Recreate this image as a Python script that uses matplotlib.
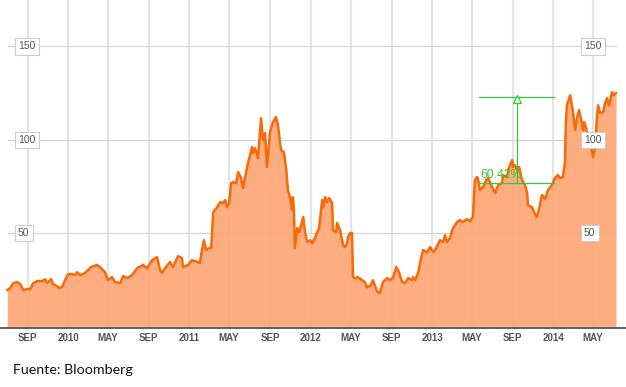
import matplotlib
matplotlib.use("Agg")
import matplotlib.pyplot as plt
import matplotlib.dates as mdates
import matplotlib.transforms as mtransforms
import pandas as pd

dates = [
    "2009-07-02", "2009-07-11", "2009-07-20", "2009-08-01", "2009-08-10", "2009-08-19", "2009-08-31",
    "2009-09-09", "2009-09-18", "2009-09-30", "2009-10-15", "2009-10-24", "2009-10-30", "2009-11-11",
    "2009-11-17", "2009-11-29", "2009-12-05", "2009-12-14", "2009-12-23", "2010-01-01", "2010-01-13",
    "2010-01-22", "2010-01-28", "2010-02-06", "2010-02-21", "2010-03-02", "2010-03-11", "2010-03-29",
    "2010-04-07", "2010-04-16", "2010-04-22", "2010-05-01", "2010-05-13", "2010-05-23", "2010-06-07",
    "2010-06-16", "2010-06-28", "2010-07-13", "2010-07-28", "2010-08-15", "2010-08-27", "2010-09-11",
    "2010-09-26", "2010-10-05", "2010-10-11", "2010-10-20", "2010-11-04", "2010-11-13", "2010-11-28",
    "2010-12-10", "2010-12-13", "2010-12-28", "2011-01-09", "2011-01-27", "2011-02-02", "2011-02-08",
    "2011-02-14", "2011-02-21", "2011-03-02", "2011-03-08", "2011-03-14", "2011-03-26", "2011-04-04",
    "2011-04-13", "2011-04-19", "2011-04-25", "2011-05-01", "2011-05-07", "2011-05-13", "2011-05-22",
    "2011-05-28", "2011-06-06", "2011-06-12", "2011-06-18", "2011-06-27", "2011-07-09", "2011-07-12",
    "2011-07-18", "2011-07-27", "2011-08-05", "2011-08-11", "2011-08-17", "2011-08-23", "2011-09-01",
    "2011-09-10", "2011-09-19", "2011-09-25", "2011-10-04", "2011-10-13", "2011-10-20", "2011-10-25",
    "2011-10-31", "2011-11-06", "2011-11-09", "2011-11-12", "2011-11-15", "2011-11-22", "2011-11-28",
    "2011-12-10", "2011-12-16", "2011-12-22", "2011-12-31", "2012-01-06", "2012-01-15", "2012-01-21",
    "2012-01-27", "2012-02-05", "2012-02-08", "2012-02-14", "2012-02-20", "2012-02-26", "2012-03-06",
    "2012-03-09", "2012-03-18", "2012-03-21", "2012-03-30", "2012-04-08", "2012-04-14", "2012-04-20",
    "2012-04-23", "2012-04-29", "2012-05-05", "2012-05-08", "2012-05-14", "2012-05-23", "2012-06-04",
    "2012-06-13", "2012-06-19", "2012-07-01", "2012-07-07", "2012-07-19", "2012-07-28", "2012-08-06",
    "2012-08-19", "2012-08-28", "2012-09-06", "2012-09-15", "2012-09-21", "2012-10-03", "2012-10-12",
    "2012-10-21", "2012-11-02", "2012-11-05", "2012-11-11", "2012-11-20", "2012-11-29", "2012-12-05",
    "2012-12-17", "2012-12-26", "2013-01-04", "2013-01-10", "2013-01-25", "2013-02-03", "2013-02-09",
    "2013-02-15", "2013-02-24", "2013-03-05", "2013-03-17", "2013-03-26", "2013-04-04", "2013-04-16",
    "2013-04-25", "2013-05-04", "2013-05-10", "2013-05-16", "2013-05-19", "2013-05-25", "2013-06-04",
    "2013-06-13", "2013-06-19", "2013-07-01", "2013-07-10", "2013-07-19", "2013-07-31", "2013-08-03",
    "2013-08-15", "2013-08-18", "2013-08-30", "2013-09-02", "2013-09-08", "2013-09-14", "2013-09-20",
    "2013-09-29", "2013-10-08", "2013-10-14", "2013-10-17", "2013-10-29", "2013-11-07", "2013-11-13",
    "2013-11-22", "2013-11-28", "2013-12-07", "2013-12-16", "2013-12-28", "2014-01-06", "2014-01-15",
    "2014-01-21", "2014-01-30", "2014-02-05", "2014-02-08", "2014-02-11", "2014-02-21", "2014-02-27",
    "2014-03-02", "2014-03-08", "2014-03-14", "2014-03-20", "2014-03-26", "2014-04-01", "2014-04-04",
    "2014-04-10", "2014-04-16", "2014-04-25", "2014-05-01", "2014-05-07", "2014-05-13", "2014-05-16",
    "2014-05-22", "2014-05-31", "2014-06-06", "2014-06-12", "2014-06-18", "2014-06-27", "2014-06-30",
    "2014-07-09",
]
prices = [
    19.5, 20.5, 23.2, 23.7, 22.7, 19.5, 20.0,
    20.0, 23.2, 24.3, 24.3, 25.3, 23.2, 25.3,
    22.7, 21.6, 20.5, 21.1, 24.8, 28.0, 28.0,
    27.5, 29.1, 27.5, 28.6, 30.2, 31.8, 32.9,
    31.8, 30.2, 29.1, 24.8, 26.4, 23.7, 23.2,
    27.0, 25.9, 27.5, 31.2, 32.9, 31.2, 35.5,
    37.1, 30.2, 28.6, 31.2, 34.5, 31.8, 37.7,
    36.6, 31.8, 32.9, 35.5, 34.5, 33.9, 40.9,
    46.2, 40.9, 42.0, 42.0, 61.2, 63.9, 66.6,
    66.1, 67.7, 63.9, 66.1, 76.8, 77.3, 76.8,
    82.7, 79.5, 74.1, 80.0, 87.5, 96.1, 92.9,
    95.5, 90.2, 111.6, 99.8, 103.6, 85.4, 104.1,
    109.5, 112.2, 107.9, 94.5, 93.4, 84.0, 73.0,
    69.3, 62.4, 69.3, 62.4, 42.0, 52.7, 50.5,
    58.6, 50.0, 45.2, 46.2, 44.6, 47.8, 50.5,
    52.7, 67.7, 63.9, 69.3, 66.6, 68.8, 66.1,
    51.6, 50.5, 55.4, 51.6, 43.6, 42.5, 44.6,
    47.8, 50.0, 50.0, 26.4, 25.9, 26.4, 24.8,
    23.7, 21.0, 22.1, 24.8, 18.9, 17.8, 23.7,
    25.9, 24.8, 26.4, 31.8, 30.2, 23.7, 23.2,
    25.9, 24.8, 26.4, 24.8, 28.6, 36.6, 40.9,
    39.8, 42.5, 39.8, 40.9, 46.2, 45.2, 48.9,
    45.2, 47.3, 52.7, 55.9, 57.0, 55.9, 57.5,
    56.4, 58.6, 78.4, 80.0, 79.5, 73.1, 74.7,
    78.4, 79.5, 74.7, 71.4, 75.7, 76.8, 81.1,
    80.0, 83.8, 89.1, 85.4, 86.4, 83.8, 85.4,
    78.4, 75.7, 72.0, 65.0, 63.9, 60.2, 58.6,
    65.0, 70.4, 68.2, 73.0, 75.7, 79.5, 81.1,
    79.5, 80.0, 87.5, 108.9, 118.5, 123.9, 117.5,
    114.3, 105.2, 112.2, 115.9, 110.6, 105.2, 109.5,
    106.3, 99.8, 95.6, 90.7, 96.1, 113.2, 118.5,
    114.3, 114.8, 119.6, 122.3, 118.5, 125.5, 123.9,
    125.0,
]

tick_dates = ["2009-09-01", "2010-01-01", "2010-05-01", "2010-09-01", "2011-01-01",
              "2011-05-01", "2011-09-01", "2012-01-01", "2012-05-01", "2012-09-01",
              "2013-01-01", "2013-05-01", "2013-09-01", "2014-01-01", "2014-05-01"]
tick_labels = ["SEP", "2010", "MAY", "SEP", "2011", "MAY", "SEP", "2012", "MAY", "SEP",
               "2013", "MAY", "SEP", "2014", "MAY"]
y_ticks = [50, 100, 150]

# measurement annotation
meas_start, meas_end, meas_mid = "2013-05-22", "2014-01-03", "2013-09-14"
meas_low, meas_high = 76.7, 123.0
meas_label = "60.42%"

source_text = "Fuente: Bloomberg"

x = mdates.date2num(pd.to_datetime(dates))
ticks = mdates.date2num(pd.to_datetime(tick_dates))

fig = plt.figure(figsize=(6.26, 3.87), dpi=100)
ax = fig.add_axes([0, 0.1537, 1, 0.8463])
ax.set_xlim(mdates.date2num(pd.Timestamp("2009-06-10")), mdates.date2num(pd.Timestamp("2014-08-08")))
ax.set_ylim(-0.6, 174.9)

for t in ticks:
    ax.axvline(t, color="#e3e3e3", lw=1.5, zorder=1)
for yv in y_ticks:
    ax.axhline(yv, xmin=8 / 626, xmax=616 / 626, color="#d6d6d6", lw=0.9, zorder=1)

ax.fill_between(x, prices, 0, color="#fda775", alpha=0.93, lw=0, zorder=2)
ax.plot(x, prices, color="#f66a0a", lw=1.8, zorder=3, solid_joinstyle="round")

# green measurement
g = "#33cc33"
x0, x1, xm = [mdates.date2num(pd.Timestamp(s)) for s in (meas_start, meas_end, meas_mid)]
ax.plot([x0, x1], [meas_high, meas_high], color=g, lw=0.9, zorder=4)
ax.plot([x0, x1], [meas_low, meas_low], color=g, lw=0.9, zorder=4)
ax.plot([xm, xm], [meas_low, meas_high - 2], color=g, lw=0.9, zorder=4)
ax.plot([xm], [meas_high - 1.4], marker="^", markersize=6, markerfacecolor="white",
        markeredgecolor=g, markeredgewidth=0.9, zorder=5)
ax.text(x0 + 5, meas_low + 1.2, meas_label, color=g, fontsize=8.8,
        family="Liberation Sans", va="bottom", ha="left", zorder=6)

# y labels in boxes
tr = mtransforms.blended_transform_factory(ax.transAxes, ax.transData)
for yv in y_ticks:
    for xf in (18 / 626, 584 / 626):
        ax.text(xf, yv, str(yv), transform=tr, fontsize=7.5, color="#555555",
                family="Liberation Sans", ha="left", va="center", zorder=7,
                bbox=dict(boxstyle="square,pad=0.3", fc="white", ec="#cccccc", lw=0.8))

ax.set_xticks(ticks)
ax.set_xticklabels(tick_labels, fontsize=7, fontweight="bold", color="#555555",
                   family="Liberation Sans")
ax.tick_params(axis="x", length=0, pad=4)
ax.set_yticks([])
for s in ("top", "left", "right"):
    ax.spines[s].set_visible(False)
ax.spines["bottom"].set_color("#333333")
ax.spines["bottom"].set_linewidth(1.1)

fig.text(13 / 626, 1 - 370 / 387, source_text, fontsize=10.3, family="Lato",
         color="#111111", ha="left", va="center")

fig.savefig("out.png", dpi=100)
